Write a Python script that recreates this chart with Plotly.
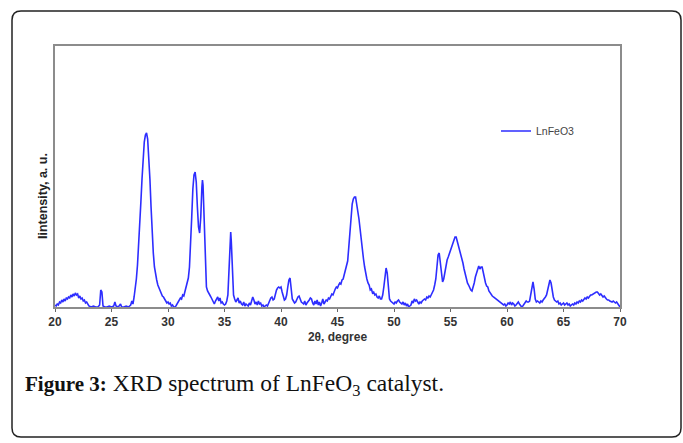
import plotly.graph_objects as go

two_theta = [
    20.0, 20.1, 20.2, 20.3, 20.4, 20.5, 20.6, 20.7, 20.8, 20.9, 21.0, 21.1, 21.2, 21.3, 21.4, 21.5, 21.6, 21.7, 21.8, 21.9,
    22.0, 22.1, 22.2, 22.3, 22.4, 22.5, 22.6, 22.7, 22.8, 22.9, 23.0, 23.2, 23.4, 23.6, 23.8, 23.95, 24.05, 24.15, 24.25, 24.4,
    24.6, 24.8, 25.0, 25.2, 25.3, 25.4, 25.6, 25.8, 25.9, 26.1, 26.3, 26.5, 26.7, 26.8, 26.9, 27.0, 27.1, 27.2, 27.3, 27.4,
    27.5, 27.6, 27.7, 27.8, 27.9, 28.0, 28.1, 28.2, 28.3, 28.4, 28.5, 28.6, 28.7, 28.8, 28.9, 29.0, 29.1, 29.2, 29.3, 29.4,
    29.5, 29.6, 29.7, 29.8, 29.9, 30.0, 30.1, 30.2, 30.3, 30.4, 30.5, 30.6, 30.7, 30.8, 30.9, 31.0, 31.1, 31.2, 31.3, 31.4,
    31.5, 31.6, 31.7, 31.8, 31.9, 32.0, 32.1, 32.2, 32.3, 32.4, 32.5, 32.6, 32.7, 32.8, 32.9, 33.0, 33.05, 33.1, 33.2, 33.3,
    33.4, 33.5, 33.6, 33.7, 33.8, 33.9, 34.0, 34.1, 34.2, 34.3, 34.4, 34.5, 34.6, 34.7, 34.8, 34.9, 35.0, 35.1, 35.2, 35.3,
    35.4, 35.5, 35.55, 35.6, 35.7, 35.8, 35.9, 36.0, 36.1, 36.2, 36.3, 36.4, 36.5, 36.6, 36.7, 36.8, 36.9, 37.0, 37.1, 37.2,
    37.3, 37.4, 37.5, 37.6, 37.7, 37.8, 37.9, 38.0, 38.1, 38.2, 38.3, 38.4, 38.5, 38.6, 38.7, 38.8, 38.9, 39.0, 39.1, 39.2,
    39.3, 39.4, 39.5, 39.6, 39.7, 39.8, 39.9, 40.0, 40.1, 40.2, 40.3, 40.4, 40.5, 40.6, 40.7, 40.8, 40.9, 41.0, 41.1, 41.2,
    41.3, 41.4, 41.5, 41.6, 41.7, 41.8, 41.9, 42.0, 42.1, 42.2, 42.3, 42.4, 42.5, 42.6, 42.7, 42.8, 42.9, 43.0, 43.1, 43.2,
    43.3, 43.4, 43.5, 43.6, 43.7, 43.8, 43.9, 44.0, 44.1, 44.2, 44.3, 44.4, 44.5, 44.6, 44.7, 44.8, 44.9, 45.0, 45.1, 45.2,
    45.3, 45.4, 45.5, 45.6, 45.7, 45.8, 45.9, 46.0, 46.1, 46.2, 46.3, 46.4, 46.5, 46.6, 46.7, 46.8, 46.9, 47.0, 47.1, 47.2,
    47.3, 47.4, 47.5, 47.6, 47.7, 47.8, 47.9, 48.0, 48.1, 48.2, 48.3, 48.4, 48.5, 48.6, 48.7, 48.8, 48.9, 49.0, 49.1, 49.2,
    49.3, 49.4, 49.5, 49.6, 49.7, 49.8, 49.9, 50.0, 50.1, 50.2, 50.3, 50.4, 50.5, 50.6, 50.7, 50.8, 50.9, 51.0, 51.1, 51.2,
    51.3, 51.4, 51.5, 51.6, 51.7, 51.8, 51.9, 52.0, 52.1, 52.2, 52.3, 52.4, 52.5, 52.6, 52.7, 52.8, 52.9, 53.0, 53.1, 53.2,
    53.3, 53.4, 53.5, 53.6, 53.7, 53.8, 53.9, 54.0, 54.1, 54.2, 54.3, 54.4, 54.5, 54.6, 54.7, 54.8, 54.9, 55.0, 55.1, 55.2,
    55.3, 55.4, 55.5, 55.6, 55.7, 55.8, 55.9, 56.0, 56.1, 56.2, 56.3, 56.4, 56.5, 56.6, 56.7, 56.8, 56.9, 57.0, 57.1, 57.2,
    57.3, 57.4, 57.5, 57.6, 57.7, 57.8, 57.9, 58.0, 58.1, 58.2, 58.3, 58.4, 58.5, 58.6, 58.7, 58.8, 58.9, 59.0, 59.1, 59.2,
    59.3, 59.4, 59.5, 59.6, 59.7, 59.8, 59.9, 60.0, 60.1, 60.2, 60.3, 60.4, 60.5, 60.6, 60.7, 60.8, 60.9, 61.0, 61.1, 61.2,
    61.3, 61.4, 61.5, 61.6, 61.7, 61.8, 61.9, 62.0, 62.1, 62.2, 62.3, 62.4, 62.5, 62.6, 62.7, 62.8, 62.9, 63.0, 63.1, 63.2,
    63.3, 63.4, 63.5, 63.6, 63.7, 63.8, 63.9, 64.0, 64.1, 64.2, 64.3, 64.4, 64.5, 64.6, 64.7, 64.8, 64.9, 65.0, 65.1, 65.2,
    65.3, 65.4, 65.5, 65.6, 65.7, 65.8, 65.9, 66.0, 66.1, 66.2, 66.3, 66.4, 66.5, 66.6, 66.7, 66.8, 66.9, 67.0, 67.1, 67.2,
    67.3, 67.4, 67.5, 67.6, 67.7, 67.8, 67.9, 68.0, 68.1, 68.2, 68.3, 68.4, 68.5, 68.6, 68.7, 68.8, 68.9, 69.0, 69.1, 69.2,
    69.3, 69.4, 69.5, 69.6, 69.7, 69.8, 69.9, 70.0,
]

intensity = [
    2, 1, 3, 2, 5, 4, 7, 5, 8, 6, 9, 8, 10, 9, 12, 10, 13, 11, 14, 12,
    13, 9, 11, 8, 9, 6, 7, 4, 5, 2, 1, 0, 1, 0, 0, 2, 17, 15, 1, 0,
    0, 1, 0, 1, 5, 1, 0, 3, 0, 0, 1, 0, 2, 6, 3, 10, 18, 28, 42, 60,
    82, 105, 128, 150, 165, 172, 174, 168, 152, 128, 100, 74, 54, 40, 32, 27, 22, 19, 18, 14,
    11, 10, 7, 6, 4, 5, 3, 4, 1, 2, 0, 0, 1, 3, 5, 6, 9, 8, 12, 11,
    15, 19, 24, 29, 40, 60, 90, 118, 132, 135, 125, 100, 80, 74, 90, 120, 127, 122, 80, 40,
    20, 16, 13, 12, 10, 7, 5, 3, 6, 8, 10, 6, 9, 4, 5, 3, 2, 3, 6, 12,
    45, 73, 75, 66, 30, 12, 8, 5, 7, 9, 4, 6, 3, 2, 5, 1, 3, 2, 1, 4,
    2, 6, 10, 7, 3, 5, 2, 6, 3, 4, 1, 2, 0, 1, 2, 1, 4, 6, 9, 10,
    7, 8, 13, 17, 19, 20, 19, 20, 15, 10, 7, 8, 12, 20, 27, 29, 20, 8, 6, 4,
    5, 8, 10, 11, 7, 5, 4, 3, 6, 2, 4, 5, 7, 9, 8, 4, 2, 6, 3, 7,
    2, 5, 1, 4, 8, 3, 5, 7, 6, 9, 8, 11, 13, 12, 16, 18, 20, 19, 22, 24,
    23, 27, 28, 33, 38, 42, 46, 60, 78, 92, 103, 108, 110, 110, 104, 96, 88, 78, 66, 56,
    48, 40, 33, 28, 24, 22, 17, 18, 14, 15, 12, 13, 10, 9, 11, 8, 8, 12, 20, 32,
    39, 34, 15, 8, 6, 5, 4, 3, 5, 4, 6, 7, 5, 4, 3, 5, 2, 4, 1, 3,
    0, 1, 2, 6, 4, 8, 6, 7, 4, 3, 5, 4, 6, 7, 8, 7, 10, 9, 11, 10,
    12, 15, 17, 22, 28, 40, 52, 54, 42, 30, 25, 28, 35, 42, 47, 50, 53, 58, 61, 64,
    66, 70, 70, 66, 62, 58, 54, 50, 44, 38, 32, 27, 24, 22, 19, 17, 16, 19, 24, 30,
    34, 38, 41, 38, 40, 40, 34, 28, 24, 21, 20, 16, 14, 13, 11, 10, 9, 8, 7, 6,
    6, 5, 4, 3, 2, 3, 1, 2, 4, 3, 5, 2, 4, 3, 1, 2, 4, 5, 3, 2,
    0, 1, 3, 5, 6, 5, 5, 6, 12, 22, 25, 18, 8, 5, 6, 5, 4, 6, 5, 7,
    8, 10, 12, 18, 24, 27, 24, 16, 10, 7, 6, 5, 6, 3, 4, 2, 3, 4, 2, 3,
    4, 2, 3, 1, 2, 3, 2, 4, 3, 5, 4, 6, 5, 7, 6, 7, 9, 8, 10, 9,
    11, 12, 12, 13, 14, 14, 15, 15, 14, 12, 13, 11, 10, 11, 9, 8, 7, 7, 6, 5,
    5, 6, 5, 4, 5, 3, 2, 0,
]

x_ticks = [20, 25, 30, 35, 40, 45, 50, 55, 60, 65, 70]
series_name = "LnFeO3"

W, H = 683, 443
L, R, T, B = 55, 63, 46, 136
PW, PH = W - L - R, H - T - B


def px(x):
    return (x - L) / PW


def py(y):
    return (H - B - y) / PH


fig = go.Figure()
fig.add_trace(go.Scatter(
    x=two_theta, y=intensity, mode="lines", name=series_name,
    line=dict(color="rgb(45,45,255)", width=1.6),
))

# outer rounded frame
x0, x1, y0, y1, r = 12, 681, 11, 437, 9
path = (
    f"M {px(x0 + r)},{py(y0)} L {px(x1 - r)},{py(y0)} "
    f"Q {px(x1)},{py(y0)} {px(x1)},{py(y0 + r)} L {px(x1)},{py(y1 - r)} "
    f"Q {px(x1)},{py(y1)} {px(x1 - r)},{py(y1)} L {px(x0 + r)},{py(y1)} "
    f"Q {px(x0)},{py(y1)} {px(x0)},{py(y1 - r)} L {px(x0)},{py(y0 + r)} "
    f"Q {px(x0)},{py(y0)} {px(x0 + r)},{py(y0)} Z"
)
fig.add_shape(type="path", path=path, xref="paper", yref="paper",
              line=dict(color="#222", width=1.5), layer="below")

fig.add_annotation(
    x=px(23), y=py(385), xref="paper", yref="paper", xanchor="left", yanchor="middle",
    text=("<span style='font-size:21px'><b>Figure 3:</b></span> "
          "XRD spectrum of LnFeO<sub>3</sub> catalyst."),
    showarrow=False, font=dict(family="Liberation Serif", size=23.5, color="#111"),
)

fig.add_annotation(
    x=px(43), y=py(196), xref="paper", yref="paper", xanchor="center", yanchor="middle",
    text="<b>Iintensity, a. u.</b>", textangle=-90, showarrow=False,
    font=dict(family="Liberation Sans", size=12.5, color="#222"),
)

fig.update_layout(
    width=W, height=H,
    margin=dict(l=L, r=R, t=T, b=B),
    paper_bgcolor="white", plot_bgcolor="white",
    font=dict(family="Liberation Sans", color="#333", size=11),
    showlegend=True,
    legend=dict(x=px(496), y=py(131), xanchor="left", yanchor="middle",
                bgcolor="rgba(0,0,0,0)", font=dict(size=10.5, color="#444", family="Liberation Sans"),
                itemwidth=30),
    xaxis=dict(
        range=[20, 70], tickvals=x_ticks, ticktext=[f"<b>{v}</b>" for v in x_ticks],
        showgrid=False, zeroline=False, showline=True, mirror=True,
        linecolor="#8c8c8c", linewidth=2, ticks="outside", ticklen=3, tickcolor="#666",
        tickfont=dict(size=12, family="Liberation Sans", color="#333"),
        title=dict(text="<b>2θ, degree</b>", font=dict(size=12, color="#333"), standoff=4),
    ),
    yaxis=dict(
        range=[0, 261], showticklabels=False, showgrid=False, zeroline=False,
        showline=True, mirror=True, linecolor="#8c8c8c", linewidth=2, ticks="",
    ),
)

fig.write_html("out.html")
